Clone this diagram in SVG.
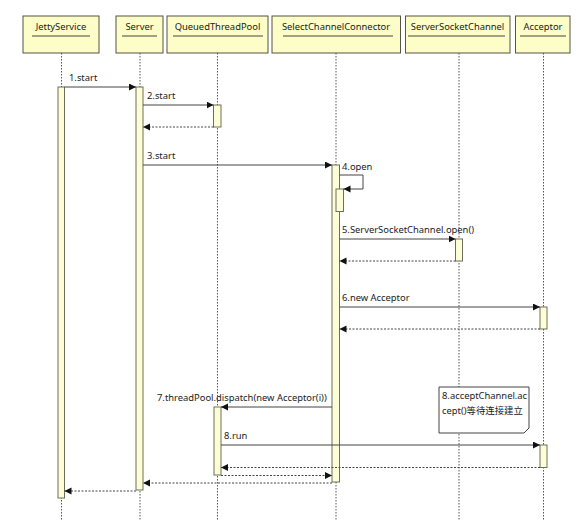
<svg xmlns="http://www.w3.org/2000/svg" width="578" height="521" viewBox="0 0 578 521">
<style>
text{font-family:"Noto Sans","Noto Sans CJK SC",sans-serif;font-size:9.4px;fill:#222}
.hdr{fill:#fdfdc8;stroke:#55554a;stroke-width:1}
.ul{stroke:#444;stroke-width:1}
.life{stroke:#555;stroke-width:1;stroke-dasharray:1.5,1.5;fill:none}
.bar{fill:#fdfdd6;stroke:#6e6e5e;stroke-width:1}
.msg{stroke:#444;stroke-width:1;fill:none;marker-end:url(#ah)}
.ret{stroke:#444;stroke-width:1;fill:none;stroke-dasharray:2,1.5;marker-end:url(#ah)}
.note{fill:#fff;stroke:#444;stroke-width:1}
</style>
<defs>
<marker id="ah" markerUnits="userSpaceOnUse" markerWidth="8" markerHeight="8" refX="7" refY="3.5" orient="auto">
<path d="M0,0 L7,3.5 L0,7 z" fill="#111"/>
</marker>
</defs>
<rect width="578" height="521" fill="#fff"/>
<g id="lifelines">
<line class="life" x1="61.5" y1="53" x2="61.5" y2="521"/>
<line class="life" x1="140" y1="53" x2="140" y2="521"/>
<line class="life" x1="217.5" y1="53" x2="217.5" y2="521"/>
<line class="life" x1="336" y1="53" x2="336" y2="521"/>
<line class="life" x1="459" y1="53" x2="459" y2="521"/>
<line class="life" x1="543.5" y1="53" x2="543.5" y2="521"/>
</g>
<g id="JettyService">
<rect class="hdr" x="23" y="16" width="76" height="37"/>
<text x="61" y="30" text-anchor="middle">JettyService</text>
<line class="ul" x1="32" y1="36" x2="90" y2="36"/>
<rect class="bar" x="58" y="87" width="6.5" height="411"/>
</g>
<g id="Server">
<rect class="hdr" x="116" y="16" width="47" height="37"/>
<text x="139.5" y="30" text-anchor="middle">Server</text>
<line class="ul" x1="122" y1="36" x2="157" y2="36"/>
<rect class="bar" x="136" y="87" width="7" height="403"/>
</g>
<g id="QueuedThreadPool">
<rect class="hdr" x="167" y="16" width="101" height="37"/>
<text x="217.5" y="30" text-anchor="middle">QueuedThreadPool</text>
<line class="ul" x1="173" y1="36" x2="263" y2="36"/>
<rect class="bar" x="213.5" y="105" width="7.5" height="22"/>
<rect class="bar" x="214" y="407" width="7" height="68"/>
</g>
<g id="SelectChannelConnector">
<rect class="hdr" x="272" y="16" width="128.5" height="37"/>
<text x="336" y="30" text-anchor="middle">SelectChannelConnector</text>
<line class="ul" x1="283" y1="36" x2="393" y2="36"/>
<rect class="bar" x="332" y="165" width="7.5" height="317"/>
<rect class="bar" x="336" y="189" width="7.5" height="22.5"/>
</g>
<g id="ServerSocketChannel">
<rect class="hdr" x="405.5" y="16" width="104.5" height="37"/>
<text x="457.5" y="30" text-anchor="middle">ServerSocketChannel</text>
<line class="ul" x1="408" y1="36" x2="505" y2="36"/>
<rect class="bar" x="455.5" y="239" width="7" height="22"/>
</g>
<g id="Acceptor">
<rect class="hdr" x="515.5" y="16" width="54.5" height="37"/>
<text x="543" y="30" text-anchor="middle">Acceptor</text>
<line class="ul" x1="520" y1="36" x2="566" y2="36"/>
<rect class="bar" x="540" y="307" width="7" height="22"/>
<rect class="bar" x="540" y="445" width="7" height="22.5"/>
</g>
<g id="connectors">
<line class="msg" x1="64.5" y1="87" x2="136" y2="87"/>
<text x="69" y="81">1.start</text>
<line class="msg" x1="143" y1="105" x2="213.5" y2="105"/>
<text x="147" y="99">2.start</text>
<line class="ret" x1="213.5" y1="127" x2="143" y2="127"/>
<line class="msg" x1="143" y1="165" x2="332" y2="165"/>
<text x="147" y="159">3.start</text>
<polyline class="msg" points="339.5,175 363,175 363,189 343.5,189"/>
<text x="342" y="170">4.open</text>
<line class="msg" x1="339.5" y1="239" x2="455.5" y2="239"/>
<text x="342" y="233">5.ServerSocketChannel.open()</text>
<line class="ret" x1="455.5" y1="261" x2="339.5" y2="261"/>
<line class="msg" x1="339.5" y1="307" x2="540" y2="307"/>
<text x="342" y="301">6.new Acceptor</text>
<line class="ret" x1="540" y1="329" x2="339.5" y2="329"/>
<line class="msg" x1="332" y1="407" x2="221" y2="407"/>
<text x="157" y="401">7.threadPool.dispatch(new Acceptor(i))</text>
<line class="msg" x1="221" y1="445" x2="540" y2="445"/>
<text x="224" y="439">8.run</text>
<line class="ret" x1="540" y1="467.5" x2="221" y2="467.5"/>
<line class="ret" x1="221" y1="475.5" x2="332" y2="475.5"/>
<line class="ret" x1="332" y1="483" x2="143" y2="483"/>
<line class="ret" x1="136" y1="491" x2="64.5" y2="491"/>
</g>
<g id="note">
<path class="note" d="M439,387 L529,387 L529,428 L524,433 L439,433 Z"/>
<text x="442" y="399">8.acceptChannel.ac</text>
<text x="442" y="414">cept()等待连接建立</text>
</g>
</svg>
